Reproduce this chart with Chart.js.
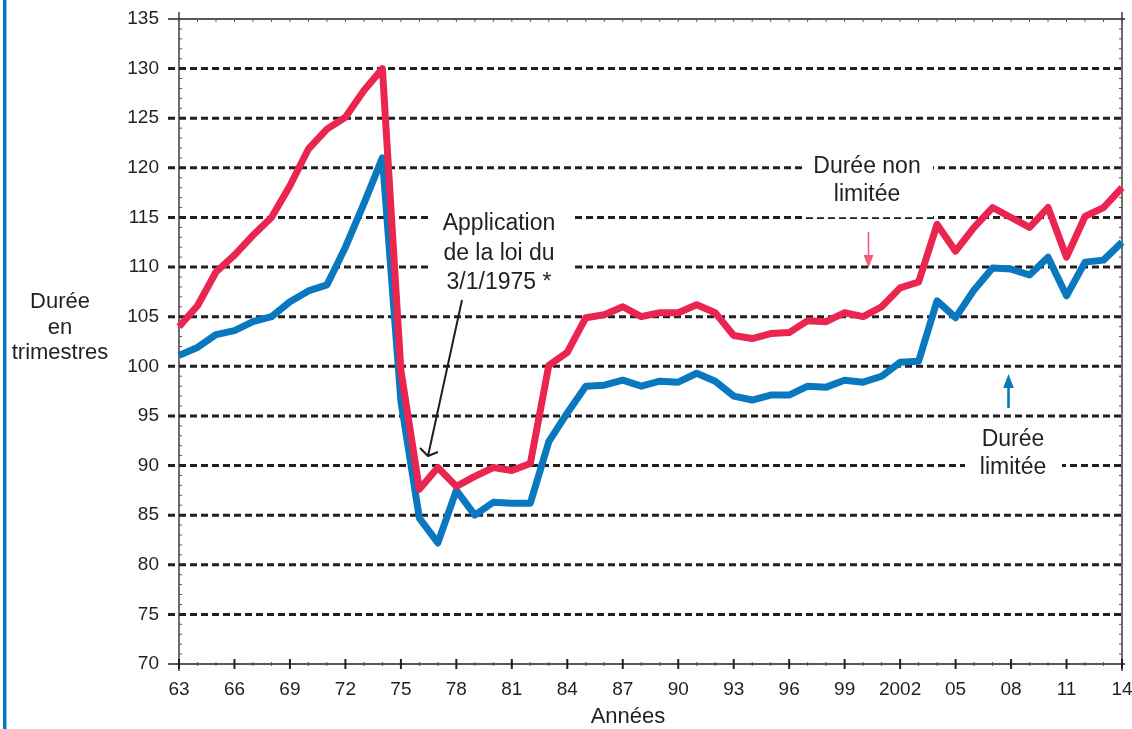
<!DOCTYPE html>
<html>
<head>
<meta charset="utf-8">
<script src="https://cdn.jsdelivr.net/npm/chart.js@4/dist/chart.umd.min.js"></script>
<style>
  body { margin: 0; background: #fff; }
  #wrap { width: 1132px; height: 729px; }
</style>
</head>
<body>
<div id="wrap"><canvas id="graphique" width="1132" height="729"></canvas></div>
<script>
// Années (1963 -> 2014)
const annees = [
  1963, 1964, 1965, 1966, 1967, 1968, 1969, 1970, 1971, 1972,
  1973, 1974, 1975, 1976, 1977, 1978, 1979, 1980, 1981, 1982,
  1983, 1984, 1985, 1986, 1987, 1988, 1989, 1990, 1991, 1992,
  1993, 1994, 1995, 1996, 1997, 1998, 1999, 2000, 2001, 2002,
  2003, 2004, 2005, 2006, 2007, 2008, 2009, 2010, 2011, 2012,
  2013, 2014
];

// libellés de l'axe des x (une année sur trois)
const etiquettesX = ["63", "66", "69", "72", "75", "78", "81", "84", "87", "90",
  "93", "96", "99", "2002", "05", "08", "11", "14"];

// graduations de l'axe des y
const graduationsY = [70, 75, 80, 85, 90, 95, 100, 105, 110, 115, 120, 125, 130, 135];

// Durée non limitée (trimestres)
const dureeNonLimitee = [
  104.0, 106.1, 109.5, 111.2, 113.2, 115.0, 118.2, 121.9, 123.9, 125.1,
  127.8, 130.0, 99.6, 87.6, 89.8, 87.9, 88.9, 89.8, 89.5, 90.2,
  100.1, 101.4, 104.9, 105.2, 106.0, 105.0, 105.4, 105.4, 106.2, 105.4,
  103.1, 102.8, 103.3, 103.4, 104.6, 104.5, 105.4, 105.0, 106.0, 107.9,
  108.5, 114.3, 111.6, 114.0, 116.0, 115.0, 114.0, 116.0, 111.0, 115.1,
  116.0, 118.0
];

// Durée limitée (trimestres)
const dureeLimitee = [
  101.1, 101.9, 103.2, 103.6, 104.5, 105.0, 106.5, 107.6, 108.2, 112.0,
  116.4, 121.0, 96.5, 84.7, 82.2, 87.5, 85.0, 86.3, 86.2, 86.2,
  92.4, 95.3, 98.0, 98.1, 98.6, 98.0, 98.5, 98.4, 99.3, 98.5,
  97.0, 96.6, 97.1, 97.1, 98.0, 97.9, 98.6, 98.4, 99.0, 100.4,
  100.5, 106.6, 104.9, 107.7, 109.9, 109.8, 109.2, 111.0, 107.1, 110.5,
  110.7, 112.5
];

const ROUGE = "#ea2550";
const BLEU = "#0a78bf";
const ENCRE = "#231f20";
const POLICE = "'Liberation Sans', Arial, Helvetica, sans-serif";

function texte(ctx, lignes, x, yDebut, pas, taille) {
  ctx.font = taille + "px " + POLICE;
  ctx.fillStyle = ENCRE;
  ctx.textAlign = "center";
  ctx.textBaseline = "middle";
  lignes.forEach((l, i) => ctx.fillText(l, x, yDebut + i * pas));
}

function fleche(ctx, x, y1, y2, couleur, epaisseur, tete) {
  // pointe en y2
  const dir = y2 > y1 ? 1 : -1;
  ctx.strokeStyle = couleur;
  ctx.lineWidth = epaisseur;
  ctx.beginPath();
  ctx.moveTo(x, y1);
  ctx.lineTo(x, y2 - dir * tete);
  ctx.stroke();
  ctx.fillStyle = couleur;
  ctx.beginPath();
  ctx.moveTo(x, y2);
  ctx.lineTo(x - tete * 0.38, y2 - dir * tete);
  ctx.lineTo(x + tete * 0.38, y2 - dir * tete);
  ctx.closePath();
  ctx.fill();
}

// Grille, axes, annotations
const decor = {
  id: "decor",
  beforeDatasetsDraw(chart) {
    const { ctx, chartArea: a, scales: { x, y } } = chart;
    ctx.save();

    // bande bleue à gauche
    ctx.fillStyle = BLEU;
    ctx.fillRect(3, 0, 3.5, 729);

    // lignes horizontales pointillées
    graduationsY.forEach((v) => {
      const py = y.getPixelForValue(v);
      ctx.beginPath();
      if (v === 70 || v === 135) {
        ctx.setLineDash([]);
        ctx.lineWidth = 1.3;
        ctx.strokeStyle = ENCRE;
        ctx.moveTo(a.left - 11, py);
        ctx.lineTo(a.right + 3, py);
      } else {
        ctx.setLineDash([7, 4]);
        ctx.lineWidth = 3;
        ctx.strokeStyle = ENCRE;
        ctx.moveTo(a.left - 11, py);
        ctx.lineTo(a.right, py);
      }
      ctx.stroke();
    });
    ctx.setLineDash([]);

    // axes verticaux
    ctx.lineWidth = 1.3;
    ctx.strokeStyle = ENCRE;
    [a.left, a.right].forEach((px) => {
      ctx.beginPath();
      ctx.moveTo(px, a.top - 7);
      ctx.lineTo(px, a.bottom + 7);
      ctx.stroke();
    });

    // petites graduations (années et unités)
    ctx.lineWidth = 1;
    ctx.strokeStyle = "#555";
    annees.forEach((an, i) => {
      const px = x.getPixelForValue(i);
      ctx.beginPath();
      ctx.moveTo(px, a.bottom - 2);
      ctx.lineTo(px, a.bottom + 2);
      ctx.moveTo(px, a.top);
      ctx.lineTo(px, a.top + 3);
      ctx.stroke();
    });
    for (let v = 71; v < 135; v++) {
      if (v % 5 === 0) continue;
      const py = y.getPixelForValue(v);
      ctx.beginPath();
      ctx.moveTo(a.left, py);
      ctx.lineTo(a.left + 3, py);
      ctx.moveTo(a.right, py);
      ctx.lineTo(a.right - 3, py);
      ctx.stroke();
    }

    // graduations principales (tous les 3 ans)
    ctx.lineWidth = 2;
    ctx.strokeStyle = ENCRE;
    annees.forEach((an, i) => {
      if (i % 3 !== 0) return;
      const px = x.getPixelForValue(i);
      ctx.beginPath();
      ctx.moveTo(px, a.bottom - 5);
      ctx.lineTo(px, a.bottom + 5);
      ctx.stroke();
    });

    // fonds blancs des étiquettes
    ctx.fillStyle = "#fff";
    ctx.fillRect(428, 205, 144, 95);
    ctx.fillRect(802, 148, 131, 69.2);
    ctx.fillRect(965, 425, 97, 55);
    ctx.restore();
  },
  afterDatasetsDraw(chart) {
    const { ctx } = chart;
    ctx.save();

    texte(ctx, ["Application", "de la loi du", "3/1/1975 *"], 499, 224, 29.5, 23);
    texte(ctx, ["Durée non", "limitée"], 867, 167, 28, 23);
    texte(ctx, ["Durée", "limitée"], 1013, 440, 27.5, 23);
    texte(ctx, ["Durée", "en", "trimestres"], 60, 302, 25.5, 22);
    texte(ctx, ["Années"], 628, 717, 0, 22);

    // flèche vers 1976
    ctx.strokeStyle = ENCRE;
    ctx.lineWidth = 2;
    ctx.beginPath();
    ctx.moveTo(462, 300);
    ctx.lineTo(428, 456);
    ctx.moveTo(420, 448);
    ctx.lineTo(428, 456);
    ctx.lineTo(438, 452);
    ctx.stroke();

    // petites flèches colorées
    ctx.globalAlpha = 0.75;
    fleche(ctx, 868.5, 232, 268, ROUGE, 1.6, 13);
    ctx.globalAlpha = 1;
    fleche(ctx, 1008.5, 408, 374, BLEU, 2.6, 14);
    ctx.restore();
  }
};

const ctx = document.getElementById("graphique").getContext("2d");

new Chart(ctx, {
  type: "line",
  data: {
    labels: annees,
    datasets: [
      {
        label: "Durée non limitée",
        data: dureeNonLimitee,
        borderColor: ROUGE,
        borderWidth: 7,
        borderJoinStyle: "round",
        pointRadius: 0,
        tension: 0,
        fill: false,
      },
      {
        label: "Durée limitée",
        data: dureeLimitee,
        borderColor: BLEU,
        borderWidth: 7,
        borderJoinStyle: "round",
        pointRadius: 0,
        tension: 0,
        fill: false,
      },
    ],
  },
  options: {
    responsive: false,
    animation: false,
    layout: { padding: { left: 0, top: 19, right: 10, bottom: 0 } },
    plugins: {
      legend: { display: false },
      tooltip: { enabled: false },
    },
    scales: {
      x: {
        type: "category",
        offset: false,
        grid: { display: false, drawTicks: false },
        border: { display: false },
        ticks: {
          autoSkip: false,
          maxRotation: 0,
          padding: 14,
          color: ENCRE,
          font: { family: POLICE, size: 19 },
          callback: (valeur, index) => (index % 3 === 0 ? etiquettesX[index / 3] : ""),
        },
        afterFit: (axe) => {
          axe.height = 65;
          axe.paddingLeft = 0;
          axe.paddingRight = 0;
        },
      },
      y: {
        min: 70,
        max: 135,
        grid: { display: false, drawTicks: false },
        border: { display: false },
        ticks: {
          stepSize: 5,
          padding: 20,
          color: ENCRE,
          font: { family: POLICE, size: 19 },
        },
        afterFit: (axe) => {
          axe.width = 179;
          axe.paddingTop = 0;
          axe.paddingBottom = 0;
        },
      },
    },
  },
  plugins: [decor],
});
</script>
</body>
</html>
